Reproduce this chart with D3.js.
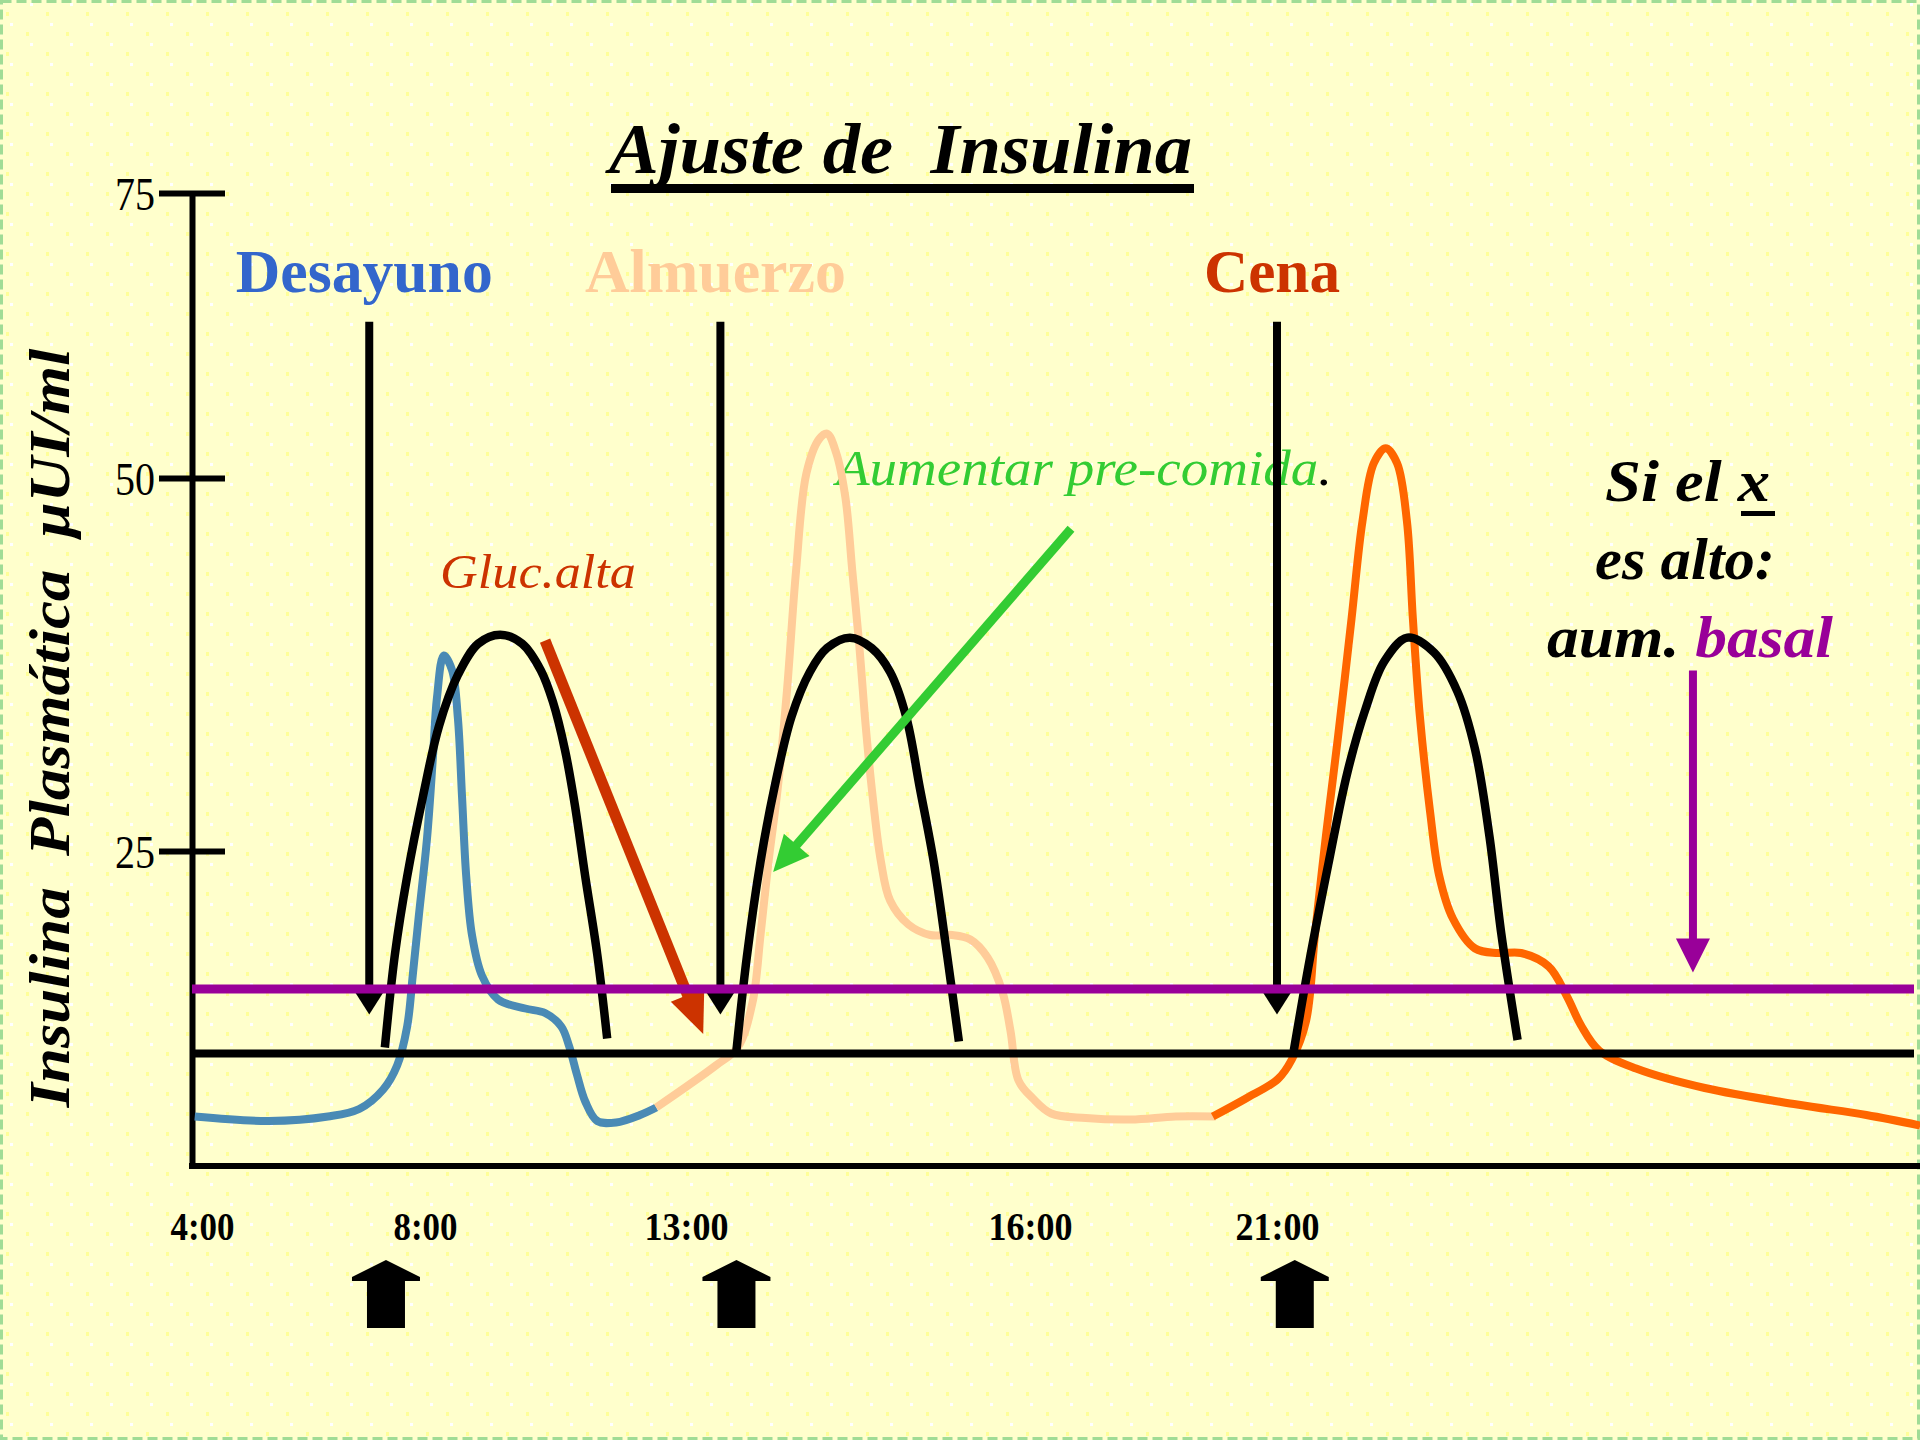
<!DOCTYPE html>
<html>
<head>
<meta charset="utf-8">
<script src="https://cdn.jsdelivr.net/npm/d3@7"></script>
<style>
  body { margin: 0; background: #FFFFCC; }
  svg { display: block; }
  text { font-family: "Liberation Serif", "Times New Roman", serif; white-space: pre; }
</style>
</head>
<body>
<svg id="chart" width="1920" height="1440"></svg>
<script>
// axis ticks
const hourTicks = [4, 8, 13, 16, 21];
const valueTicks = [25, 50, 75];

// plasma insulin after each meal [hour, µUI/ml]
const desayuno = [[3.87,7.3],[5.2,7.0],[6.26,7.3],[6.82,7.8],[7.25,9.1],[7.5,10.7],[7.68,13.3],[7.78,16.7],[7.89,20.7],[8.04,25.9],[8.15,31.2],[8.23,35.3],[8.36,38.1],[8.52,37.1],[8.63,33.9],[8.71,28.6],[8.79,23.3],[8.9,19.4],[9.09,16.7],[9.4,15.1],[9.92,14.5],[10.3,14.2],[10.61,13.3],[10.76,12.0],[10.91,10.1],[11.07,8.3],[11.3,7.0],[11.66,6.9],[12.12,7.4],[12.43,7.9]];
const almuerzo = [[12.43,7.9],[13.26,10.7],[13.45,11.9],[13.58,14.9],[13.65,19.4],[13.72,24.3],[13.8,29.2],[13.88,35.7],[13.96,43.8],[14.05,50.4],[14.16,53.4],[14.23,53.9],[14.31,52.2],[14.39,48.7],[14.45,43.8],[14.51,38.9],[14.56,34.0],[14.62,29.2],[14.7,24.3],[14.78,21.7],[14.94,20.1],[15.13,19.4],[15.32,19.4],[15.48,19.1],[15.63,17.9],[15.76,15.6],[15.83,13.0],[15.9,9.7],[16.06,8.5],[16.43,7.5],[17.13,7.2],[18.04,7.1],[18.95,7.3],[19.76,7.3]];
const cena = [[19.7,7.3],[20.37,8.5],[21.02,9.8],[21.3,11.1],[21.59,13.7],[21.77,19.5],[21.99,26.0],[22.23,32.5],[22.51,40.6],[22.73,47.1],[22.96,51.3],[23.2,52.6],[23.43,51.3],[23.63,47.1],[23.75,40.6],[23.89,34.1],[24.1,27.6],[24.28,23.4],[24.56,20.5],[25.01,18.5],[25.47,18.2],[25.94,18.2],[26.5,17.3],[26.87,15.3],[27.15,13.4],[27.52,11.7],[28.27,10.5],[29.66,9.2],[31.53,8.1],[32.93,7.4],[34.02,6.7]];

// rapid insulin profiles (black bells)
const bolus1 = [[7.28,11.9],[7.46,18.1],[7.68,23.3],[7.96,28.6],[8.27,33.4],[8.63,36.8],[9.02,38.9],[9.44,39.5],[9.86,38.9],[10.22,37.1],[10.45,35.0],[10.68,31.8],[10.87,28.1],[11.07,23.3],[11.3,18.1],[11.49,12.5]];
const bolus2 = [[13.44,11.7],[13.53,17.9],[13.65,24.3],[13.77,29.2],[13.92,34.0],[14.08,37.0],[14.23,38.6],[14.43,39.3],[14.62,38.6],[14.78,37.0],[14.92,34.0],[15.04,29.2],[15.16,24.3],[15.28,17.9],[15.38,12.3]];
const bolus3 = [[21.34,11.7],[21.67,17.9],[22.05,24.3],[22.42,30.2],[22.79,34.5],[23.17,37.7],[23.64,39.3],[24.18,38.3],[24.65,35.7],[25.01,31.8],[25.3,26.0],[25.54,19.5],[25.87,12.4]];

const mealNames = ["Desayuno", "Almuerzo", "Cena"];
const mealColors = ["#3366CC", "#FFCC99", "#CC3300"];
const mealTimes = [7.0, 13.3, 21.0];
const bolusTimes = [7.3, 13.44, 21.36];
const mealArrowTop = 63.7, mealArrowTip = 14.1;
const baselineLevel = 11.5;
const basalLevel = 15.8;
const axisMin = 4;

// annotation arrows [from, to]
const glucArrow = [[10.3, 39.1], [13.15, 12.8]];
const preArrow = [[16.83, 46.6], [13.76, 23.6]];
const basalArrow = [[29.42, 37.1], [29.42, 16.9]];

const width = 1920, height = 1440;
const x0 = 192;   // y axis position

// the drawing uses uneven spacing on both axes
const x = d3.scaleLinear().domain(hourTicks).range([202, 425, 686, 1030, 1277]);
const y = d3.scaleLinear().domain([axisMin, 25, 50, 75]).range([1166, 851, 478, 193]);

const svg = d3.select("#chart");
const defs = svg.append("defs");
const pat = defs.append("pattern").attr("id", "dots")
  .attr("width", 40).attr("height", 40).attr("patternUnits", "userSpaceOnUse");
pat.append("rect").attr("width", 40).attr("height", 40).attr("fill", "#FFFFCC");
[[6,12],[26,32]].forEach(p => pat.append("rect").attr("x", p[0]).attr("y", p[1]).attr("width", 3).attr("height", 4).attr("fill", "#FFFF99"));
[[30,3],[10,23]].forEach(p => pat.append("rect").attr("x", p[0]).attr("y", p[1]).attr("width", 3).attr("height", 3).attr("fill", "#FFFFFF"));

svg.append("rect").attr("width", width).attr("height", height).attr("fill", "url(#dots)");
svg.append("rect").attr("x", 1.5).attr("y", 1.5).attr("width", width - 3).attr("height", height - 3)
   .attr("fill", "none").attr("stroke", "#A0DC96").attr("stroke-width", 3).attr("stroke-dasharray", "10 5");

// title
svg.append("text").attr("x", 609).attr("y", 173)
   .attr("font-size", 72).attr("font-weight", "bold").attr("font-style", "italic")
   .attr("textLength", 583).attr("lengthAdjust", "spacingAndGlyphs")
   .text("Ajuste de  Insulina");
svg.append("rect").attr("x", 611).attr("y", 184).attr("width", 583).attr("height", 9).attr("fill", "#000");

// y axis title
svg.append("text")
   .attr("transform", "translate(69,728) rotate(-90)")
   .attr("text-anchor", "middle")
   .attr("font-size", 58).attr("font-weight", "bold").attr("font-style", "italic")
   .attr("textLength", 759).attr("lengthAdjust", "spacingAndGlyphs")
   .text("Insulina  Plasmática  µUI/ml");

// axes
const yAxis = d3.axisLeft(y).tickValues(valueTicks).tickSize(0).tickPadding(37).tickSizeOuter(0);
const gy = svg.append("g").attr("transform", `translate(${x0},0)`).call(yAxis);
gy.select(".domain").attr("stroke", "#000").attr("stroke-width", 6);
gy.selectAll(".tick line").attr("x1", -33).attr("x2", 33).attr("stroke", "#000").attr("stroke-width", 6);
gy.selectAll(".tick text").attr("font-size", 46).attr("font-family", "Liberation Serif")
  .attr("fill", "#000").attr("dy", "0.35em")
  .attr("textLength", 40).attr("lengthAdjust", "spacingAndGlyphs");

const xAxis = d3.axisBottom(x).tickValues(hourTicks).tickFormat(d => d + ":00").tickSize(0);
const gx = svg.append("g").attr("transform", `translate(0,${y(axisMin)})`).call(xAxis);
gx.select(".domain").remove();
gx.selectAll(".tick text").attr("y", 74).attr("dy", null)
  .attr("font-size", 40).attr("font-weight", "bold").attr("font-family", "Liberation Serif").attr("fill", "#000")
  .attr("textLength", d => d >= 10 ? 84 : 64).attr("lengthAdjust", "spacingAndGlyphs");
svg.append("line").attr("x1", x0 - 3).attr("x2", width).attr("y1", y(axisMin)).attr("y2", y(axisMin))
   .attr("stroke", "#000").attr("stroke-width", 6);

// meal labels
svg.selectAll(".meal").data(mealNames).enter().append("text")
   .attr("x", (d, i) => x(mealTimes[i]) - 5).attr("y", 292)
   .attr("text-anchor", "middle")
   .attr("font-size", 62).attr("font-weight", "bold")
   .attr("fill", (d, i) => mealColors[i])
   .attr("textLength", (d, i) => [257, 261, 136][i]).attr("lengthAdjust", "spacingAndGlyphs")
   .text(d => d);

// annotation texts
svg.append("text").attr("x", 440).attr("y", 588)
   .attr("font-size", 48).attr("font-style", "italic").attr("fill", "#CC3300")
   .attr("textLength", 196).attr("lengthAdjust", "spacingAndGlyphs")
   .text("Gluc.alta");
const pre = svg.append("text").attr("x", 836).attr("y", 485)
   .attr("font-size", 50).attr("font-style", "italic")
   .attr("textLength", 496).attr("lengthAdjust", "spacingAndGlyphs");
pre.append("tspan").attr("fill", "#33CC33").text("Aumentar pre-comida");
pre.append("tspan").attr("fill", "#000").text(".");

const noteLines = [["Si el x", 1605, 501, 165], ["es alto:", 1595, 579, 180]];
noteLines.forEach(l => svg.append("text").attr("x", l[1]).attr("y", l[2])
   .attr("font-size", 60).attr("font-weight", "bold").attr("font-style", "italic")
   .attr("textLength", l[3]).attr("lengthAdjust", "spacingAndGlyphs").text(l[0]));
svg.append("rect").attr("x", 1741).attr("y", 511).attr("width", 34).attr("height", 5).attr("fill", "#000");
const aum = svg.append("text").attr("x", 1547).attr("y", 657)
   .attr("font-size", 60).attr("font-weight", "bold").attr("font-style", "italic")
   .attr("textLength", 286).attr("lengthAdjust", "spacingAndGlyphs");
aum.append("tspan").attr("fill", "#000").text("aum. ");
aum.append("tspan").attr("fill", "#990099").text("basal");

// curves
const line = d3.line().x(d => x(d[0])).y(d => y(d[1])).curve(d3.curveCatmullRom.alpha(0.5));
const series = [
  { data: desayuno, color: "#4a8ab5", w: 8 },
  { data: almuerzo, color: "#FFCC99", w: 8 },
  { data: cena, color: "#FF6600", w: 8 },
  { data: bolus1, color: "#000", w: 8.5 },
  { data: bolus2, color: "#000", w: 8.5 },
  { data: bolus3, color: "#000", w: 8.5 }
];
svg.selectAll(".curve").data(series).enter().append("path")
   .attr("d", d => line(d.data))
   .attr("fill", "none").attr("stroke", d => d.color).attr("stroke-width", d => d.w)
   .attr("stroke-linejoin", "round");

// baseline
svg.append("line").attr("x1", x0).attr("x2", 1914).attr("y1", y(baselineLevel)).attr("y2", y(baselineLevel))
   .attr("stroke", "#000").attr("stroke-width", 8);

function arrow(p0, p1, color, w, head, half) {
  const dx = p1[0] - p0[0], dy = p1[1] - p0[1], len = Math.hypot(dx, dy);
  const ux = dx / len, uy = dy / len, px = -uy, py = ux;
  const bx = p1[0] - ux * head, by = p1[1] - uy * head;
  svg.append("line").attr("x1", p0[0]).attr("y1", p0[1]).attr("x2", bx + ux * 2).attr("y2", by + uy * 2)
     .attr("stroke", color).attr("stroke-width", w);
  svg.append("path")
     .attr("d", `M${p1[0]},${p1[1]}L${bx + px * half},${by + py * half}L${bx - px * half},${by - py * half}Z`)
     .attr("fill", color);
}

// meal arrows
mealTimes.forEach(t => arrow([x(t), y(mealArrowTop)], [x(t), y(mealArrowTip)], "#000", 8, 22, 14));

// annotation arrows
arrow([x(glucArrow[0][0]), y(glucArrow[0][1])], [x(glucArrow[1][0]), y(glucArrow[1][1])], "#CC3300", 11, 42, 18);
arrow([x(preArrow[0][0]), y(preArrow[0][1])], [x(preArrow[1][0]), y(preArrow[1][1])], "#33CC33", 9, 36, 17);
arrow([x(basalArrow[0][0]), y(basalArrow[0][1])], [x(basalArrow[1][0]), y(basalArrow[1][1])], "#990099", 8, 34, 17);

// basal line
svg.append("line").attr("x1", x0).attr("x2", 1914).attr("y1", y(basalLevel)).attr("y2", y(basalLevel))
   .attr("stroke", "#990099").attr("stroke-width", 9);

// injection arrows under the time axis
svg.selectAll(".inj").data(bolusTimes).enter().append("path")
   .attr("d", t => {
     const c = x(t);
     return `M${c},1260L${c + 34},1277L${c + 34},1281L${c + 19},1281L${c + 19},1328L${c - 19},1328L${c - 19},1281L${c - 34},1281L${c - 34},1277Z`;
   })
   .attr("fill", "#000");
</script>
</body>
</html>
